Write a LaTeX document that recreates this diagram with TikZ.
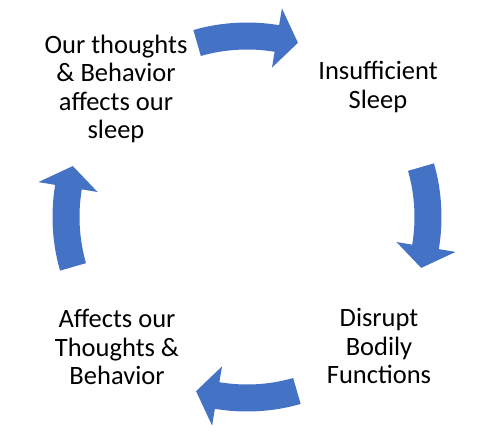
\documentclass[tikz,border=0pt]{standalone}
\usepackage{fontspec}
\setmainfont{Carlito}
\definecolor{arrowblue}{HTML}{4472C4}
\begin{document}
\begin{tikzpicture}[x=1pt,y=1pt,
  lbl/.style={align=center,inner sep=0pt,text=black,
    font=\fontsize{26.5}{28.5}\selectfont},
  cyc/.style={fill=arrowblue,draw=none}]
\useasboundingbox (0,0) rectangle (500,447);
\coordinate (C) at (247,230);
% labels
\node[lbl] (t1) at (116,358) {Our thoughts\\\& Behavior\\affects our\\sleep};
\node[lbl] (t2) at (378,360) {Insufficient\\Sleep};
\node[lbl] (t3) at (379,101) {Disrupt\\Bodily\\Functions};
\node[lbl] (t4) at (117,100) {Affects our\\Thoughts \&\\Behavior};
% curved block arrows (clockwise)
\foreach \a in {90,0,-90,180}{
  \fill[cyc] ([shift={(C)}]{\a+16}:194.5)
    arc[start angle={\a+16}, end angle={\a-9.5}, radius=194.5]
    -- ([shift={(C)}]{\a-9.5}:211.5)
    -- ([shift={(C)}]{\a-16.3}:181.5)
    -- ([shift={(C)}]{\a-9.5}:151.5)
    -- ([shift={(C)}]{\a-9.5}:167.5)
    arc[start angle={\a-9.5}, end angle={\a+16}, radius=167.5]
    -- cycle;
}
\end{tikzpicture}
\end{document}
